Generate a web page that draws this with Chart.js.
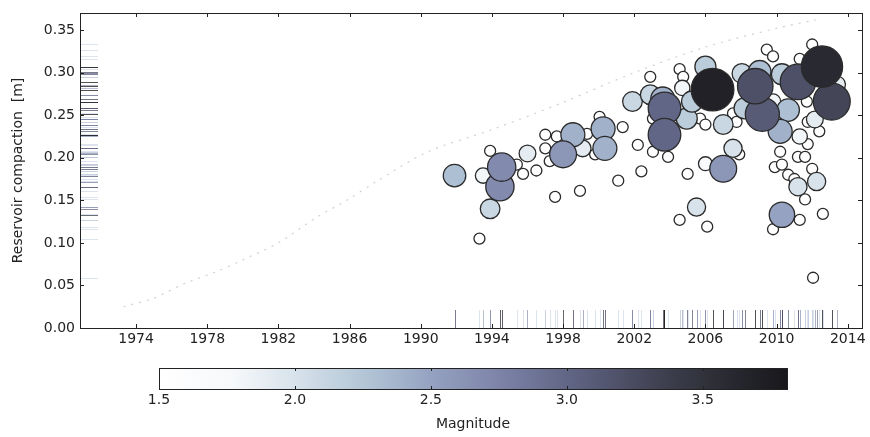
<!DOCTYPE html>
<html>
<head>
<meta charset="utf-8">
<script src="https://cdn.jsdelivr.net/npm/chart.js@4.4.1/dist/chart.umd.min.js"></script>
<style>
    html, body { margin: 0; padding: 0; background: #fff; }
    #wrap { position: relative; width: 870px; height: 437px; }
    #mainChart { position: absolute; left: 0; top: 0; }
    #barChart { position: absolute; left: 0; top: 355px; }
</style>
</head>
<body>
<div id="wrap">
    <canvas id="mainChart" width="870" height="355"></canvas>
    <canvas id="barChart" width="870" height="82"></canvas>
</div>
<script>
// events: year, reservoir compaction [m], magnitude
const years = [
    1991.9, 1993.3, 1993.5, 1993.9, 1993.9, 1994.45, 1994.55, 1995.4, 1995.75, 1996.0,
    1996.5, 1997.0, 1997.0, 1997.25, 1997.55, 1997.65, 1998.0, 1998.55, 1998.95, 1999.1,
    1999.35, 1999.8, 2000.05, 2000.25, 2000.35, 2001.1, 2001.35, 2001.9, 2002.2, 2002.4,
    2002.9, 2002.9, 2003.05, 2003.05, 2003.6, 2003.7, 2003.7, 2003.9, 2004.55, 2004.75,
    2004.7, 2004.55, 2004.95, 2005.0, 2005.25, 2005.5, 2005.7, 2006.0, 2006.0, 2006.0,
    2006.1, 2006.4, 2007.0, 2007.0, 2007.55, 2007.55, 2007.75, 2007.9, 2008.05, 2008.2,
    2008.8, 2009.05, 2009.2, 2009.45, 2009.8, 2009.8, 2009.8, 2009.9, 2010.2, 2010.2,
    2010.3, 2010.3, 2010.3, 2010.65, 2010.65, 2011.0, 2011.2, 2011.2, 2011.2, 2011.3,
    2011.3, 2011.3, 2011.6, 2011.6, 2011.7, 2011.75, 2011.75, 2012.0, 2012.0, 2012.05,
    2012.15, 2012.25, 2012.4, 2012.55, 2012.6, 2013.1, 2013.4
];
const compaction = [
    0.179, 0.105, 0.179, 0.140, 0.208, 0.166, 0.189, 0.192, 0.181, 0.205,
    0.185, 0.227, 0.211, 0.196, 0.154, 0.225, 0.204, 0.227, 0.161, 0.211,
    0.228, 0.204, 0.248, 0.234, 0.211, 0.173, 0.236, 0.266, 0.215, 0.184,
    0.295, 0.274, 0.207, 0.246, 0.269, 0.258, 0.227, 0.201, 0.304, 0.295,
    0.282, 0.127, 0.246, 0.181, 0.266, 0.142, 0.246, 0.307, 0.239, 0.193,
    0.119, 0.280, 0.239, 0.187, 0.211, 0.252, 0.242, 0.204, 0.299, 0.258,
    0.284, 0.301, 0.251, 0.327, 0.319, 0.266, 0.116, 0.189, 0.231, 0.207,
    0.298, 0.192, 0.133, 0.256, 0.180, 0.175, 0.289, 0.201, 0.166, 0.316,
    0.225, 0.127, 0.201, 0.151, 0.266, 0.216, 0.242, 0.333, 0.187, 0.059,
    0.245, 0.172, 0.231, 0.307, 0.134, 0.266, 0.286
];
const magnitudes = [
    2.3, 1.5, 1.8, 2.1, 1.5, 2.7, 2.7, 1.5, 1.5, 1.9,
    1.5, 1.5, 1.5, 1.5, 1.5, 1.5, 2.6, 2.4, 1.5, 1.9,
    1.5, 1.5, 1.5, 2.4, 2.4, 1.5, 1.5, 2.1, 1.5, 1.5,
    1.5, 2.1, 1.5, 1.5, 2.4, 3.0, 3.0, 1.5, 1.5, 1.5,
    1.8, 1.5, 2.2, 1.5, 2.2, 2.0, 1.5, 2.2, 1.5, 1.7,
    1.5, 3.7, 2.1, 2.6, 2.0, 1.5, 1.5, 1.5, 2.1, 2.2,
    3.2, 2.3, 3.1, 1.5, 1.5, 1.8, 1.5, 1.5, 2.4, 1.5,
    2.2, 1.5, 2.5, 2.3, 1.5, 1.5, 3.2, 1.5, 2.0, 1.5,
    1.8, 1.5, 1.5, 1.5, 1.5, 1.5, 1.5, 1.5, 1.5, 1.5,
    1.9, 2.0, 1.5, 3.6, 1.5, 3.3, 1.9
];

// compaction curve of the reservoir
const curveYears = [1973.3, 1975.0, 1976.7, 1978.5, 1980.0, 1982.0, 1984.0, 1986.0, 1987.5, 1990.4, 1994.0, 1998.0, 2002.0, 2006.0, 2010.0, 2012.2];
const curveCompaction = [0.025, 0.035, 0.052, 0.066, 0.080, 0.100, 0.128, 0.152, 0.172, 0.207, 0.233, 0.265, 0.300, 0.330, 0.352, 0.362];

const yearTicks = [1974, 1978, 1982, 1986, 1990, 1994, 1998, 2002, 2006, 2010, 2014];
const compactionTicks = [0.00, 0.05, 0.10, 0.15, 0.20, 0.25, 0.30, 0.35];
const magnitudeTicks = [1.5, 2.0, 2.5, 3.0, 3.5];

const MAG_MIN = 1.5;
const MAG_MAX = 3.81;

// colour ramp (white -> blue grey -> near black), as it looks on the print
const rampStops = [
    [0.00, [255, 255, 255]],
    [0.12, [246, 248, 250]],
    [0.22, [214, 225, 234]],
    [0.33, [178, 197, 214]],
    [0.43, [150, 163, 194]],
    [0.54, [125, 132, 168]],
    [0.65, [98, 102, 134]],
    [0.76, [72, 74, 94]],
    [0.87, [48, 49, 58]],
    [1.00, [24, 24, 28]]
];

Chart.defaults.font.family = 'DejaVu Sans';
Chart.defaults.font.size = 14;
Chart.defaults.color = '#222';

function rampRGB(m) {
    let t = (m - MAG_MIN) / (MAG_MAX - MAG_MIN);
    t = Math.min(1, Math.max(0, t));
    for (let i = 1; i < rampStops.length; i++) {
        const [t1, c1] = rampStops[i];
        const [t0, c0] = rampStops[i - 1];
        if (t <= t1) {
            const f = (t - t0) / (t1 - t0);
            return c0.map((c, k) => Math.round(c + (c1[k] - c) * f));
        }
    }
    return rampStops[rampStops.length - 1][1];
}

function colorFor(m, alpha) {
    const c = rampRGB(m);
    if (alpha === undefined) return 'rgb(' + c.join(',') + ')';
    return 'rgba(' + c.join(',') + ',' + alpha + ')';
}

function radiusFor(m) {
    return 5.5 + 7.2 * (m - MAG_MIN);
}

const rugPlugin = {
    id: 'rug',
    beforeDatasetsDraw(chart) {
        const { ctx, chartArea: a, scales: { x, y } } = chart;
        ctx.save();
        ctx.lineWidth = 1;
        years.forEach((yr, i) => {
            ctx.strokeStyle = colorFor(magnitudes[i] + 0.9, 0.35 + 0.4 * Math.min(1, (magnitudes[i] - MAG_MIN) / 0.6));
            const px = Math.round(x.getPixelForValue(yr)) + 0.5;
            ctx.beginPath();
            ctx.moveTo(px, a.bottom);
            ctx.lineTo(px, a.bottom - 18);
            ctx.stroke();
            const py = Math.round(y.getPixelForValue(compaction[i])) + 0.5;
            ctx.beginPath();
            ctx.moveTo(a.left, py);
            ctx.lineTo(a.left + 18, py);
            ctx.stroke();
        });
        ctx.restore();
    }
};

const framePlugin = {
    id: 'frame',
    afterDraw(chart) {
        const { ctx, chartArea: a, scales: { x, y } } = chart;
        ctx.save();
        ctx.strokeStyle = '#222';
        ctx.lineWidth = 1;
        ctx.strokeRect(Math.round(a.left) + 0.5, Math.round(a.top) + 0.5, Math.round(a.right - a.left), Math.round(a.bottom - a.top));
        ctx.beginPath();
        yearTicks.forEach(v => {
            const px = Math.round(x.getPixelForValue(v)) + 0.5;
            ctx.moveTo(px, a.bottom); ctx.lineTo(px, a.bottom - 4);
            ctx.moveTo(px, a.top); ctx.lineTo(px, a.top + 4);
        });
        compactionTicks.forEach(v => {
            const py = Math.round(y.getPixelForValue(v)) + 0.5;
            ctx.moveTo(a.left, py); ctx.lineTo(a.left + 4, py);
            ctx.moveTo(a.right, py); ctx.lineTo(a.right - 4, py);
        });
        ctx.stroke();
        ctx.restore();
    }
};

function noOverflow(scale) {
    scale.paddingLeft = 0;
    scale.paddingRight = 0;
    scale.paddingTop = 0;
    scale.paddingBottom = 0;
}

function crearGraficaPrincipal() {
    const order = magnitudes.map((m, i) => i).sort((a, b) => magnitudes[a] - magnitudes[b]);
    const points = order.map(i => ({ x: years[i], y: compaction[i], r: radiusFor(magnitudes[i]) }));
    const fills = order.map(i => colorFor(magnitudes[i]));
    const curve = curveYears.map((yr, i) => ({ x: yr, y: curveCompaction[i] }));

    const ctx = document.getElementById('mainChart').getContext('2d');
    new Chart(ctx, {
        type: 'bubble',
        data: {
            datasets: [
                {
                    type: 'line',
                    data: curve,
                    borderColor: 'rgba(150,150,150,0.45)',
                    borderWidth: 1.2,
                    borderDash: [2, 6],
                    pointRadius: 0,
                    tension: 0.3,
                    order: 2
                },
                {
                    data: points,
                    backgroundColor: fills,
                    borderColor: '#2b2b2b',
                    borderWidth: 1.3,
                    hoverRadius: 0,
                    order: 1
                }
            ]
        },
        options: {
            responsive: false,
            animation: false,
            devicePixelRatio: 1,
            layout: { autoPadding: false, padding: { left: 0, right: 8, top: 13, bottom: 0 } },
            scales: {
                x: {
                    type: 'linear',
                    min: 1970.85,
                    max: 2014.8,
                    grid: { display: false, drawTicks: false },
                    border: { display: false },
                    afterBuildTicks: scale => { scale.ticks = yearTicks.map(v => ({ value: v })); },
                    afterFit: scale => { scale.height = 27; noOverflow(scale); },
                    ticks: {
                        autoSkip: false,
                        maxRotation: 0,
                        padding: 3,
                        callback: v => String(v)
                    }
                },
                y: {
                    type: 'linear',
                    min: 0,
                    max: 0.37,
                    grid: { display: false, drawTicks: false },
                    border: { display: false },
                    afterBuildTicks: scale => { scale.ticks = compactionTicks.map(v => ({ value: v })); },
                    afterFit: scale => { scale.width = 80; noOverflow(scale); },
                    ticks: {
                        autoSkip: false,
                        padding: 5,
                        callback: v => v.toFixed(2)
                    },
                    title: {
                        display: true,
                        text: 'Reservoir compaction  [m]',
                        padding: { top: 10, bottom: 0 }
                    }
                }
            },
            plugins: {
                legend: { display: false },
                tooltip: { enabled: false }
            }
        },
        plugins: [rugPlugin, framePlugin]
    });
}

const colorbarPlugin = {
    id: 'colorbar',
    beforeDatasetsDraw(chart) {
        const { ctx, chartArea: a } = chart;
        const grad = ctx.createLinearGradient(a.left, 0, a.right, 0);
        for (let i = 0; i <= 60; i++) {
            grad.addColorStop(i / 60, colorFor(MAG_MIN + (MAG_MAX - MAG_MIN) * i / 60));
        }
        ctx.save();
        ctx.fillStyle = grad;
        ctx.fillRect(a.left, a.top, a.right - a.left, a.bottom - a.top);
        ctx.restore();
    },
    afterDraw(chart) {
        const { ctx, chartArea: a, scales: { x } } = chart;
        ctx.save();
        ctx.strokeStyle = '#222';
        ctx.lineWidth = 1;
        ctx.strokeRect(Math.round(a.left) + 0.5, Math.round(a.top) + 0.5, Math.round(a.right - a.left), Math.round(a.bottom - a.top));
        ctx.beginPath();
        magnitudeTicks.forEach(v => {
            const px = Math.round(x.getPixelForValue(v)) + 0.5;
            ctx.moveTo(px, a.bottom); ctx.lineTo(px, a.bottom - 3);
            ctx.moveTo(px, a.top); ctx.lineTo(px, a.top + 3);
        });
        ctx.stroke();
        ctx.restore();
    }
};

function crearBarraColor() {
    const ctx = document.getElementById('barChart').getContext('2d');
    new Chart(ctx, {
        type: 'scatter',
        data: { datasets: [{ data: [] }] },
        options: {
            responsive: false,
            animation: false,
            devicePixelRatio: 1,
            layout: { autoPadding: false, padding: { left: 159, right: 83, top: 13, bottom: 0 } },
            scales: {
                x: {
                    type: 'linear',
                    min: MAG_MIN,
                    max: MAG_MAX,
                    grid: { display: false, drawTicks: false },
                    border: { display: false },
                    afterBuildTicks: scale => { scale.ticks = magnitudeTicks.map(v => ({ value: v })); },
                    afterFit: scale => { scale.height = 48; noOverflow(scale); },
                    ticks: {
                        autoSkip: false,
                        maxRotation: 0,
                        padding: 3,
                        callback: v => v.toFixed(1)
                    },
                    title: {
                        display: true,
                        text: 'Magnitude',
                        padding: { top: 0, bottom: 4 }
                    }
                },
                y: { display: false, min: 0, max: 1 }
            },
            plugins: {
                legend: { display: false },
                tooltip: { enabled: false }
            }
        },
        plugins: [colorbarPlugin]
    });
}

crearGraficaPrincipal();
crearBarraColor();
</script>
</body>
</html>
